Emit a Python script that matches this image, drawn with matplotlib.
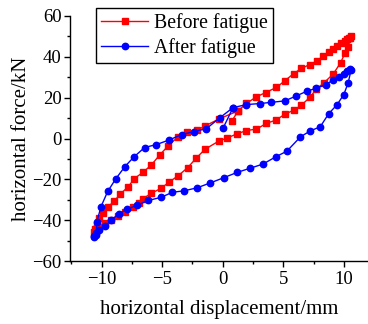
import matplotlib
matplotlib.use("Agg")
import matplotlib.pyplot as plt
from matplotlib.ticker import MultipleLocator

# Before fatigue (red squares)
before_x = [0.75, 1.27, 1.96, 2.79, 3.55, 4.44, 5.12, 5.87, 6.5, 7.19, 7.8, 8.3, 8.76, 9.12, 9.45, 9.8,
            10.08, 10.3, 10.45, 10.58, 10.55,
            10.36, 10.08, 9.73, 9.12, 8.35, 7.74, 7.19, 6.5, 5.87, 5.12, 4.38, 3.61, 2.79, 1.96, 1.15,
            0.38, -0.3, -1.45, -2.17, -2.9, -3.7, -4.4, -5.1, -5.9, -6.6, -6.9, -7.45, -8.1, -8.65,
            -9.26, -9.75, -10.2, -10.5, -10.65,
            -10.55, -10.4, -10.2, -9.9, -9.5, -8.95, -8.45, -7.8, -7.3, -6.6, -5.9, -5.2, -4.5, -3.7,
            -2.95, -2.1, -1.5, -0.3, 1.27]
before_y = [8.5, 13.5, 17.2, 20.4, 22.5, 25.0, 28.2, 31.8, 34.3, 36.2, 38.0, 40.3, 42.1, 43.7, 45.2, 46.5,
            47.8, 48.6, 49.3, 50.0, 49.2,
            44.8, 41.6, 37.0, 31.5, 27.2, 24.2, 20.1, 16.3, 13.9, 11.8, 9.0, 7.4, 4.6, 3.9, 2.2,
            0.3, -1.2, -5.2, -9.5, -14.3, -18.3, -21.2, -24.4, -26.8, -29.5, -31.5, -33.4, -35.8, -37.9,
            -39.9, -41.5, -43.2, -44.5, -45.5,
            -44.5, -42.3, -39.0, -36.5, -33.6, -30.6, -27.1, -23.6, -19.6, -16.6, -13.0, -8.0, -3.6, 0.8,
            3.0, 4.1, 6.0, 9.6, 13.5]

# After fatigue (blue circles)
after_x = [0.05, 0.85, 1.96, 3.06, 4.02, 5.12, 6.03, 6.97, 7.74, 8.49, 9.12, 9.6, 10.0, 10.3, 10.5, 10.6,
           10.36, 10.0, 9.45, 8.75, 8.05, 7.25, 6.42, 5.3, 4.4, 3.33, 2.23, 1.18, 0.08, -1.02, -2.1,
           -3.2, -4.15, -5.1, -6.15, -7.05, -7.88, -8.6, -9.2, -9.7, -10.2, -10.5, -10.65, -10.6,
           -10.45, -10.4, -10.05, -9.5, -8.84, -8.1, -7.35, -6.45, -5.5, -4.46, -3.4, -2.4, -1.35,
           -0.25, 0.85]
after_y = [5.3, 15.1, 16.6, 17.1, 17.7, 18.4, 20.7, 23.2, 24.6, 26.4, 28.5, 30.2, 31.8, 33.2, 33.8, 33.5,
           27.2, 21.5, 16.6, 12.1, 5.7, 3.8, 0.8, -6.2, -8.9, -12.5, -14.6, -16.6, -19.2, -21.7, -24.1,
           -25.6, -26.3, -28.8, -30.3, -32.6, -34.5, -37.0, -39.8, -42.8, -44.8, -46.3, -47.6, -48.3,
           -47.0, -40.8, -33.3, -25.9, -19.8, -13.9, -9.1, -4.4, -3.0, -0.8, 1.9, 3.4, 4.8,
           10.1, 15.1]

x_ticks = [-10, -5, 0, 5, 10]
y_ticks = [-60, -40, -20, 0, 20, 40, 60]

plt.rcParams['font.family'] = ['Liberation Serif', 'DejaVu Serif']

fig = plt.figure(figsize=(3.68, 3.24), dpi=100)
ax = fig.add_axes([0.190, 0.194, 0.810, 0.757])

ax.plot(before_x, before_y, color='#ff0000', lw=1.0, marker='s', ms=3.9,
        mec='#ff0000', mfc='#ff0000', label='Before fatigue')
ax.plot(after_x, after_y, color='#0000ff', lw=1.0, marker='o', ms=4.6,
        mec='#0000ff', mfc='#0000ff', label='After fatigue')

ax.set_xlim(-12.62, 12.0)
ax.set_ylim(-60, 60)
ax.set_xticks(x_ticks)
ax.set_yticks(y_ticks)
ax.xaxis.set_minor_locator(MultipleLocator(2.5))
ax.yaxis.set_minor_locator(MultipleLocator(10))
ax.tick_params(which='major', direction='out', length=4, width=1, labelsize=13.5, pad=3)
ax.tick_params(which='minor', direction='out', length=2, width=1)
ax.tick_params(axis='y', which='major', pad=2)

for s in ['top', 'right']:
    ax.spines[s].set_visible(False)
for s in ['left', 'bottom']:
    ax.spines[s].set_linewidth(1.0)

ax.set_xlabel('horizontal displacement/mm', fontsize=15, labelpad=9)
ax.set_ylabel('horizontal force/kN', fontsize=15, labelpad=1)

leg = ax.legend(loc='upper left', bbox_to_anchor=(96/368, 1 - 8/324),
                bbox_transform=fig.transFigure, fontsize=14.2, frameon=True,
                fancybox=False, edgecolor='black', framealpha=1,
                handlelength=2.4, handletextpad=0.3, labelspacing=0.25,
                borderpad=0.25, borderaxespad=0)
leg.get_frame().set_linewidth(1.0)

fig.savefig('out.png', dpi=100)
